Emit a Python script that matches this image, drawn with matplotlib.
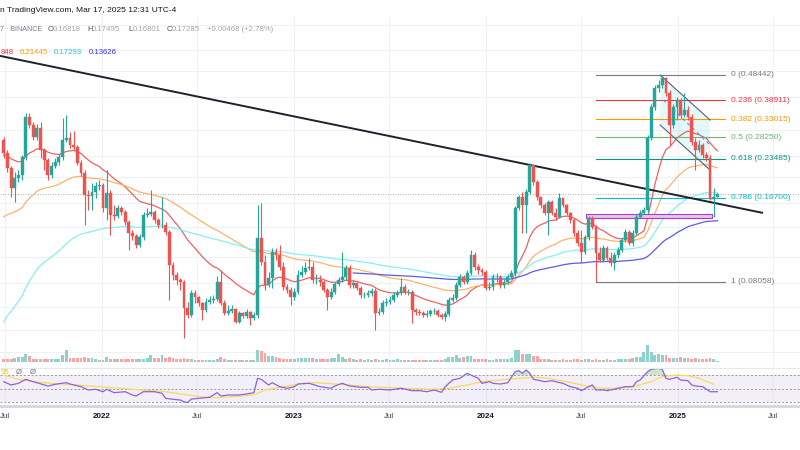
import numpy as np
import pandas as pd
import matplotlib
matplotlib.use("Agg")
import matplotlib.pyplot as plt
import matplotlib.dates as mdates
from matplotlib.lines import Line2D
from matplotlib.patches import Rectangle, Polygon
from matplotlib.ticker import NullLocator, FixedLocator

plt.rcParams['font.family'] = ['Liberation Sans', 'DejaVu Sans']

# ---------------- DATA (weekly candles) ----------------
first_week = "2021-06-28"
first_open = 0.2758
last_open = 0.16818

closes = [
    .2464, .2164, .1820, .1985, .2037, .2380, .3366, .3141, .2831, .3060,
    .2529, .2319, .2037, .2202, .2279, .2380, .2758, .2806, .2641, .2596,
    .2260, .2072, .1712, .1698, .1758, .1851, .1867, .1530, .1743, .1440,
    .1428, .1530, .1478, .1356, .1232, .1200, .1110, .1190, .1440, .1453,
    .1478, .1379, .1320, .1320, .1243, .0933, .0856, .0820, .0806, .0643,
    .0605, .0733, .0708, .0672, .0632, .0678, .0689, .0695, .0806, .0672,
    .0616, .0627, .0638, .0570, .0616, .0600, .0621, .0590, .0605, .1180,
    .0958, .0785, .0834, .1045, .1018, .0917, .0772, .0752, .0708, .0739,
    .0856, .0879, .0909, .0917, .0820, .0820, .0806, .0752, .0708, .0739,
    .0792, .0820, .0842, .0909, .0785, .0799, .0765, .0720, .0720, .0733,
    .0746, .0616, .0621, .0672, .0678, .0689, .0720, .0733, .0772, .0739,
    .0739, .0632, .0621, .0616, .0605, .0610, .0627, .0627, .0605, .0595,
    .0610, .0689, .0701, .0785, .0842, .0806, .0871, .1018, .0917, .0894,
    .0879, .0765, .0772, .0842, .0842, .0785, .0806, .0842, .0871, .1530,
    .1683, .1570, .1758, .2221, .1917, .1683, .1570, .1466, .1612, .1466,
    .1416, .1669, .1570, .1466, .1379, .1232, .1130, .1045, .1190, .1403,
    .1298, .1036, .0975, .1082, .0992, .0950, .1018, .1063, .1159, .1243,
    .1130, .1232, .1416, .1466, .1504, .2806, .3671, .4327, .4441, .4720,
    .4144, .3141, .3671, .3900, .3425, .3577, .3366, .2711, .2529, .2641,
    .2422, .2360, .1654, .16818, .17285,
]

highs = [
    .2831, .2529, .2202, .2090, .2127, .2422, .3485, .3485, .3224, .3168,
    .3224, .2573, .2360, .2279, .2360, .2443, .3337, .3425, .2956, .2982,
    .2641, .2319, .2127, .1788, .1900, .1917, .1950, .1900, .2127, .1788,
    .1570, .1570, .1557, .1504, .1379, .1264, .1221, .1221, .1478, .1530,
    .1788, .1504, .1403, .1683, .1356, .1264, .0958, .0879, .0834, .0820,
    .0678, .0752, .0752, .0714, .0678, .0701, .0714, .0720, .0849, .0894,
    .0689, .0660, .0660, .0643, .0627, .0621, .0638, .0627, .0621, .1570,
    .1598, .1018, .0879, .1082, .1082, .1110, .0958, .0792, .0772, .0765,
    .0894, .0925, .0958, .0992, .0958, .0864, .0856, .0820, .0765, .0765,
    .0806, .0842, .1045, .0933, .0933, .0820, .0806, .0778, .0739, .0752,
    .0765, .0765, .0643, .0689, .0701, .0714, .0739, .0752, .0834, .0792,
    .0759, .0752, .0643, .0638, .0627, .0632, .0638, .0643, .0638, .0616,
    .0627, .0708, .0726, .0806, .0864, .0856, .0894, .1063, .1045, .0942,
    .0909, .0894, .0806, .0864, .0871, .0856, .0827, .0864, .0894, .1557,
    .1712, .1758, .1804, .2260, .2221, .1950, .1683, .1598, .1640, .1640,
    .1530, .1743, .1669, .1584, .1478, .1403, .1264, .1264, .1211, .1428,
    .1428, .1320, .1091, .1110, .1101, .1045, .1045, .1091, .1180, .1275,
    .1264, .1264, .1453, .1504, .1543, .2880, .3767, .4441, .4638, .48442,
    .4761, .4253, .3767, .4003, .3968, .4144, .3703, .3455, .2806, .2758,
    .2687, .2486, .2422, .1820, .17495,
]

lows = [
    .2360, .2090, .1683, .1612, .1917, .1950, .2319, .3060, .2758, .2758,
    .2360, .2127, .1950, .1985, .2164, .2221, .2319, .2711, .2573, .2529,
    .2221, .2019, .1320, .1504, .1504, .1669, .1788, .1478, .1379, .1211,
    .1379, .1403, .1440, .1320, .1063, .1159, .1082, .1091, .1159, .1416,
    .1428, .1344, .1287, .1287, .1211, .0689, .0820, .0785, .0752, .0495,
    .0590, .0595, .0672, .0654, .0580, .0621, .0666, .0672, .0683, .0660,
    .0605, .0605, .0616, .0565, .0565, .0590, .0590, .0555, .0580, .0590,
    .0933, .0752, .0772, .0765, .0975, .0894, .0752, .0733, .0660, .0689,
    .0726, .0842, .0864, .0894, .0799, .0792, .0778, .0739, .0632, .0695,
    .0726, .0778, .0806, .0820, .0765, .0765, .0752, .0701, .0701, .0708,
    .0714, .0531, .0605, .0610, .0654, .0666, .0678, .0708, .0720, .0726,
    .0720, .0565, .0605, .0605, .0595, .0595, .0600, .0610, .0595, .0585,
    .0575, .0600, .0678, .0689, .0772, .0792, .0792, .0856, .0894, .0864,
    .0856, .0752, .0752, .0752, .0806, .0765, .0765, .0792, .0834, .0849,
    .1504, .1232, .1232, .1728, .1867, .1640, .1530, .1440, .1211, .1440,
    .1379, .1403, .1543, .1440, .1344, .1200, .1101, .0950, .1027, .1159,
    .1275, .08058, .0958, .0958, .0975, .0925, .0894, .0992, .1045, .1140,
    .1110, .1101, .1211, .1403, .1453, .1478, .2758, .3577, .4180, .4327,
    .4038, .2641, .3060, .3280, .3337, .3366, .3280, .2641, .2127, .2486,
    .2360, .2299, .1640, .1416, .16801,
]

volume_m = [
    30, 30, 30, 40, 50, 50, 80, 60, 30, 30,
    30, 30, 30, 30, 30, 30, 70, 120, 40, 40,
    40, 40, 50, 40, 40, 30, 20, 20, 50, 30,
    30, 30, 30, 30, 30, 30, 30, 30, 30, 40,
    70, 40, 40, 70, 40, 50, 40, 30, 30, 40,
    30, 30, 20, 20, 20, 20, 20, 20, 30, 50,
    30, 20, 20, 20, 20, 20, 20, 20, 20, 120,
    110, 90, 60, 60, 50, 40, 30, 30, 30, 30,
    40, 40, 40, 40, 40, 30, 30, 30, 30, 40,
    40, 80, 50, 30, 40, 30, 20, 30, 20, 30,
    20, 30, 20, 20, 30, 20, 20, 30, 20, 20,
    20, 20, 20, 20, 20, 20, 20, 20, 20, 20,
    30, 50, 50, 70, 40, 50, 60, 60, 30, 30,
    30, 30, 20, 20, 30, 30, 30, 30, 40, 120,
    120, 80, 80, 80, 60, 60, 30, 30, 30, 20,
    20, 20, 30, 20, 20, 30, 30, 20, 30, 30,
    20, 30, 20, 20, 30, 20, 20, 30, 30, 30,
    30, 40, 50, 50, 100, 170, 100, 70, 80, 70,
    70, 40, 40, 40, 50, 40, 40, 30, 40, 30,
    30, 30, 40, 30, 10,
]

# EMA lengths and the value each line shows where it starts (read)
ema_specs = [  # (length, start week index, value at start, colour)
    (20, 0, 0.2422, '#f26060'),
    (50, 0, 0.1416, '#ffb26b'),
    (100, 0, 0.0570, '#86eef5'),
    (200, 95, 0.0871, '#5c5ce0'),
]

# RSI (14) line and its moving average, sampled at week indices (read)
rsi_weeks = [0, 2, 4, 6, 8, 9, 12, 14, 17, 18, 21, 23, 25, 27, 28, 30, 33, 35, 36, 38,
             41, 43, 44, 46, 48, 49, 50, 51, 53, 56, 58, 59, 61, 64, 66, 68, 69, 70, 72, 73,
             75, 77, 79, 80, 83, 86, 89, 90, 92, 94, 97, 99, 100, 102, 105, 108, 110, 111, 113, 115,
             117, 119, 120, 122, 124, 126, 128, 129, 130, 132, 133, 135, 137, 139, 140, 141, 142, 143, 144, 145,
             147, 149, 150, 152, 154, 156, 157, 159, 160, 161, 163, 164, 166, 167, 169, 171, 172, 173, 175, 176,
             178, 179, 180, 181, 183, 184, 186, 187, 188, 190, 192, 194]
rsi_vals = [60.3, 55.5, 57.9, 63.7, 60.3, 58.8, 54.0, 56.5, 58.8, 56.9, 53.0, 48.2, 49.2, 45.7, 49.2, 44.3, 45.7, 40.9, 39.5, 45.7,
            45.7, 43.4, 36.1, 34.7, 33.6, 31.0, 30.0, 35.0, 36.1, 37.6, 44.3, 39.5, 40.9, 40.9, 42.4, 44.3, 65.2, 63.7, 55.5, 58.8,
            53.0, 50.7, 53.0, 56.9, 57.9, 53.0, 50.7, 54.0, 57.9, 54.0, 52.1, 52.1, 48.2, 49.2, 48.2, 50.7, 48.2, 47.2, 47.2, 45.7,
            48.2, 44.8, 53.0, 62.7, 65.2, 72.5, 67.5, 65.2, 57.9, 60.3, 57.9, 56.9, 58.8, 74.8, 76.3, 72.5, 77.3, 72.5, 63.7, 62.7,
            60.3, 61.7, 60.3, 57.9, 53.0, 50.7, 47.2, 53.0, 55.5, 48.2, 48.2, 47.2, 49.2, 50.7, 53.0, 53.0, 60.3, 62.7, 74.8, 78.3,
            79.7, 78.3, 65.2, 63.7, 66.7, 62.7, 61.7, 55.5, 54.0, 53.0, 45.7, 45.7]
rsi_ma_weeks = [0, 2, 4, 8, 13, 17, 26, 35, 44, 50, 55, 58, 62, 68, 71, 76, 81, 85, 90, 94,
                99, 108, 117, 121, 126, 130, 135, 139, 144, 148, 153, 157, 162, 167, 171, 176, 179, 183, 186, 189, 193]
rsi_ma_vals = [70.0, 66.7, 63.7, 60.3, 57.9, 56.5, 53.0, 49.2, 45.7, 40.9, 37.6, 37.0, 38.4, 40.9, 48.2, 53.0, 57.9, 58.8, 56.9, 55.5,
               53.0, 50.7, 49.2, 50.7, 55.5, 60.3, 62.7, 64.6, 66.7, 65.2, 60.3, 55.5, 50.7, 50.7, 53.0, 60.3, 67.5, 70.0, 69.0, 65.2, 56.5]
rsi_levels = [70, 50, 30]

# Fibonacci retracement (swing low -> swing high)
fib_high = 0.48442
fib_low = 0.08058
fib_ratios = [0, 0.236, 0.382, 0.5, 0.618, 0.786, 1]
fib_colors = ['#787b86', '#f23645', '#ff9800', '#66bb6a', '#089981', '#00bcd4', '#787b86']
fib_start_week = 161
fib_end = "2025-03-31"

# Drawings
trend_dates = ["2021-06-21", "2025-06-10"]
trend_prices = [0.5716, 0.1468]
chan_dates = ["2024-11-28", "2025-03-03"]
chan_upper = [0.4844, 0.3280]
chan_lower = [0.3141, 0.2127]
chan_mid_dates = ["2024-12-04", "2025-03-03"]
chan_mid = [0.3900, 0.2641]
zone_dates = ["2024-07-10", "2025-03-06"]
zone_prices = [0.1400, 0.1450]

grid_prices = [0.75, 0.6, 0.5, 0.4, 0.3, 0.24, 0.2, 0.16, 0.13, 0.1, 0.08, 0.065, 0.053, 0.044]
grid_dates = ["2021-07-01", "2022-01-01", "2022-07-01", "2023-01-01", "2023-07-01",
              "2024-01-01", "2024-07-01", "2025-01-01", "2025-07-01"]
tick_labels = ["Jul", "2022", "Jul", "2023", "Jul", "2024", "Jul", "2025", "Jul"]

# ---------------- DERIVED ----------------
closes = np.array(closes)
highs = np.array(highs)
lows = np.array(lows)
opens = np.concatenate([[first_open], closes[:-1]])
opens[-1] = last_open
n = len(closes)
dates = pd.date_range(first_week, periods=n, freq="7D")
xd = mdates.date2num(dates.to_pydatetime())

def to_num(s):
    return mdates.date2num(pd.Timestamp(s).to_pydatetime())

def ema(vals, length, start, seed):
    out = np.full(len(vals), np.nan)
    a = 2.0 / (length + 1)
    out[start] = seed
    for i in range(start + 1, len(vals)):
        out[i] = a * vals[i] + (1 - a) * out[i - 1]
    return out

UP, DN = '#26a69a', '#ef5350'
up_mask = closes >= opens
ccol = np.where(up_mask, UP, DN)

# ---------------- FIGURE ----------------
W, H = 800, 450
fig = plt.figure(figsize=(8, 4.5), dpi=100)
fig.patch.set_facecolor('white')

def px_axes(x0, y0, x1, y1):
    return fig.add_axes([x0 / W, 1 - y1 / H, (x1 - x0) / W, (y1 - y0) / H])

x_lo = to_num("2022-01-01") - 194.1
x_hi = to_num("2022-01-01") + 1328.1
grid_x = [to_num(d) for d in grid_dates]

def clean(ax):
    for s in ax.spines.values():
        s.set_visible(False)
    ax.tick_params(length=0, labelleft=False, labelbottom=False)

# main price pane
ax = px_axes(0, 18, 800, 367)
ax.set_yscale('log')
ax.set_ylim(0.03857, 0.7938)
ax.set_xlim(x_lo, x_hi)
ax.yaxis.set_major_locator(FixedLocator(grid_prices))
ax.yaxis.set_minor_locator(NullLocator())
ax.xaxis.set_major_locator(FixedLocator(grid_x))
ax.xaxis.set_minor_locator(NullLocator())
ax.grid(True, color='#eef1f6', lw=0.8)
ax.set_axisbelow(True)
clean(ax)

# volume (overlay at the bottom of the price pane)
vx = px_axes(0, 332, 800, 362)
vx.set_xlim(x_lo, x_hi)
vx.set_ylim(0, 300)
vx.patch.set_alpha(0)
clean(vx)
vcol = np.where(up_mask, '#8fd2cb', '#f6a5a3')
vx.bar(xd, volume_m, width=5.4, color=vcol, linewidth=0)

# EMAs
for length, start, seed, col in ema_specs:
    e = ema(closes, length, start, seed)
    ax.plot(xd, e, color=col, lw=0.9, zorder=2)

# trendline, channel, zone
ax.plot([to_num(d) for d in trend_dates], trend_prices, color='#1e222d', lw=1.4, zorder=4)
cx = [to_num(d) for d in chan_dates]
ax.add_patch(Polygon([(cx[0], chan_upper[0]), (cx[1], chan_upper[1]),
                      (cx[1], chan_lower[1]), (cx[0], chan_lower[0])],
                     closed=True, facecolor='#b2ebf2', alpha=0.35, edgecolor='none', zorder=1))
ax.plot(cx, chan_upper, color='#5d606b', lw=0.8, zorder=4)
ax.plot(cx, chan_lower, color='#5d606b', lw=0.8, zorder=4)
ax.plot([to_num(d) for d in chan_mid_dates], chan_mid, color='#5b8def', lw=0.8,
        ls=(0, (3, 3)), zorder=4)
zx = [to_num(d) for d in zone_dates]
ax.add_patch(Rectangle((zx[0], zone_prices[0]), zx[1] - zx[0], zone_prices[1] - zone_prices[0],
                       facecolor='#e7c6ee', edgecolor='#a93cc0', lw=0.8, zorder=3))

# fib retracement
fx0, fx1 = xd[fib_start_week], to_num(fib_end)
for r, col in zip(fib_ratios, fib_colors):
    p = fib_high - r * (fib_high - fib_low)
    ax.plot([fx0, fx1], [p, p], color=col, lw=0.8, zorder=2)
    ax.annotate(f"{r:g} ({p:.5f})", (fx1, p), xytext=(4.2, 0), textcoords='offset points',
                va='center', ha='left', fontsize=6, color=col, zorder=6)

# last price dotted line
ax.axhline(closes[-1], color='#9598a1', lw=0.6, ls=(0, (1, 2)), zorder=1)

# candles
ax.vlines(xd, lows, highs, colors=ccol, lw=0.8, zorder=5)
ax.bar(xd, np.abs(closes - opens), bottom=np.minimum(opens, closes), width=5.4,
       color=ccol, edgecolor=ccol, linewidth=0.3, zorder=5)

# RSI pane
ra = px_axes(0, 368, 800, 404)
ra.set_xlim(x_lo, x_hi)
ra.set_ylim(27.8, 80.2)
ra.xaxis.set_major_locator(FixedLocator(grid_x))
ra.yaxis.set_major_locator(NullLocator())
ra.grid(True, axis='x', color='#eef1f6', lw=0.8)
ra.set_axisbelow(True)
clean(ra)
ra.axhspan(rsi_levels[2], rsi_levels[0], color='#7e57c2', alpha=0.09, lw=0)
for lv in rsi_levels:
    ra.axhline(lv, color='#9598a1', lw=0.7, ls=(0, (2, 2)))
rx = xd[np.array(rsi_weeks)]
rv = np.array(rsi_vals)
ra.fill_between(rx, 70, rv, where=rv > 70, interpolate=True, color='#66bb6a', alpha=0.35, lw=0)
ra.plot(xd[np.array(rsi_ma_weeks)], rsi_ma_vals, color='#f3dc5a', lw=0.9)
ra.plot(rx, rv, color='#8c63d6', lw=0.9)

# separators
fig.add_artist(Line2D([0, 1], [1 - 367.5 / H] * 2, color='#e6e8ee', lw=0.8))
fig.add_artist(Line2D([0, 1], [1 - 405.5 / H] * 2, color='#d6d8de', lw=2.2))

# time axis labels
lab = px_axes(0, 407, 800, 430)
lab.set_xlim(x_lo, x_hi)
lab.set_ylim(0, 1)
lab.axis('off')
for d, t in zip(grid_x, tick_labels):
    bold = t.isdigit()
    lab.text(d, (430 - 416) / 23, t, ha='center', va='center', fontsize=5.8,
             fontweight='bold' if bold else 'normal', color='#131722' if bold else '#3b3f4a')

# header texts
def ftext(x, y, s, **kw):
    fig.text(x / W, 1 - y / H, s, va='center', **kw)

ftext(0, 10, "n TradingView.com, Mar 17, 2025 12:31 UTC-4", fontsize=6, color='#131722')
ftext(0, 29.3, "7 · BINANCE", fontsize=5.1, color='#787b86')
for x, s, c in [(48, "O", '#4a4e59'), (53, "0.16818", '#a3a6af'), (87, "H", '#4a4e59'), (92, "0.17495", '#a3a6af'),
                (128, "L", '#4a4e59'), (132.5, "0.16801", '#a3a6af'), (167, "C", '#4a4e59'), (171.5, "0.17285", '#a3a6af'),
                (207, "+0.00468 (+2.78%)", '#a3a6af')]:
    ftext(x, 29.3, s, fontsize=5.6, color=c)
ftext(0.5, 52.7, "848", fontsize=5.6, color='#f23645')
ftext(20, 52.7, "0.21445", fontsize=5.6, color='#ff9800')
ftext(54, 52.7, "0.17293", fontsize=5.6, color='#22c7dd')
ftext(89, 52.7, "0.13626", fontsize=5.6, color='#2e2ef0')
ftext(0.5, 372.7, "95", fontsize=5.6, color='#f2c230')
ftext(16, 372.7, "Ø", fontsize=5.6, color='#6a6d78')
ftext(30, 372.7, "Ø", fontsize=5.6, color='#6a6d78')

fig.savefig("out.png", dpi=100, facecolor='white')
